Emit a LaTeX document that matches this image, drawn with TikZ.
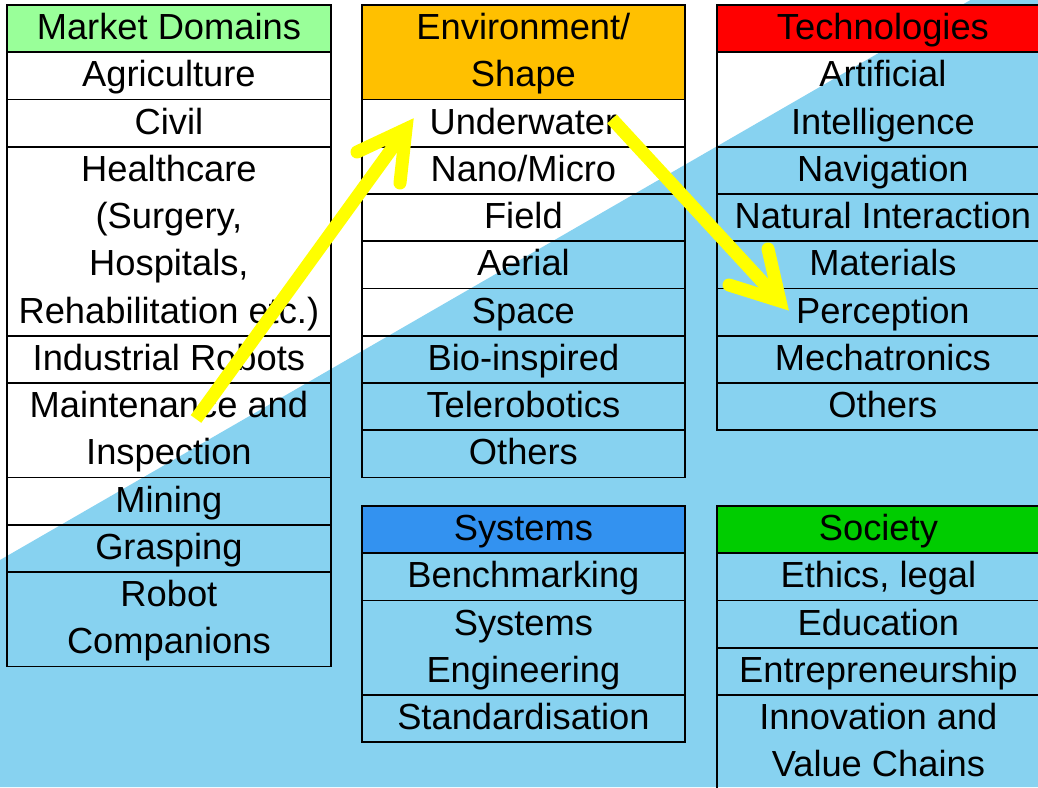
\documentclass[tikz,border=0pt]{standalone}
\usepackage{fontspec}
\setmainfont{Liberation Sans}
\definecolor{bgblue}{RGB}{135,210,240}
\definecolor{mdgreen}{RGB}{153,255,153}
\definecolor{envorange}{RGB}{255,192,0}
\definecolor{techred}{RGB}{255,0,0}
\definecolor{sysblue}{RGB}{51,146,240}
\definecolor{socgreen}{RGB}{0,204,0}
\definecolor{arrowyellow}{RGB}{255,255,0}
% name, x, ytop, width, nlines, fill, text
\newcommand\mycell[7]{%
  \node[cellbox, fill=#6, minimum width=#4pt, minimum height=#5*47.25pt] (#1) at (#2,#3) {};
  \node[celltext] (#1-t) at ([yshift=-35.5pt]#1.north) {\begin{tabular}[t]{@{}c@{}}#7\end{tabular}};
}
\begin{document}
\begin{tikzpicture}[x=1pt,y=-1pt,
  cellbox/.style={draw=black, line width=1.8pt, inner sep=0pt, anchor=north west},
  celltext/.style={inner sep=0pt, anchor=base, font=\fontsize{36.3}{47.25}\selectfont},
  yshaft/.style={draw=arrowyellow, line width=13pt, line cap=butt},
  yhead/.style={draw=arrowyellow, line width=13pt, line cap=round, line join=miter}]
\useasboundingbox (0,0) rectangle (1038,787);
\clip (0,0) rectangle (1038,787);
\fill[bgblue] (0,560) -- (970.5,0) -- (1038,0) -- (1038,787) -- (0,787) -- cycle;

% Column 1: Market Domains
\mycell{mdh}{6}{4}{324}{1}{mdgreen}{Market Domains}
\mycell{agri}{6}{51.25}{324}{1}{none}{Agriculture}
\mycell{civil}{6}{98.5}{324}{1}{none}{Civil}
\mycell{health}{6}{145.75}{324}{4}{none}{Healthcare\\(Surgery,\\Hospitals,\\Rehabilitation etc.)}
\mycell{indus}{6}{334.75}{324}{1}{none}{Industrial Robots}
\mycell{maint}{6}{382}{324}{2}{none}{Maintenance and\\Inspection}
\mycell{mining}{6}{476.5}{324}{1}{none}{Mining}
\mycell{grasp}{6}{523.75}{324}{1}{none}{Grasping}
\mycell{robot}{6}{571}{324}{2}{none}{Robot\\Companions}

% Column 2: Environment/Shape
\mycell{envh}{361}{4}{323}{2}{envorange}{Environment/\\Shape}
\mycell{under}{361}{98.5}{323}{1}{none}{Underwater}
\mycell{nano}{361}{145.75}{323}{1}{none}{Nano/Micro}
\mycell{field}{361}{193}{323}{1}{none}{Field}
\mycell{aerial}{361}{240.25}{323}{1}{none}{Aerial}
\mycell{space}{361}{287.5}{323}{1}{none}{Space}
\mycell{bio}{361}{334.75}{323}{1}{none}{Bio-inspired}
\mycell{tele}{361}{382}{323}{1}{none}{Telerobotics}
\mycell{envoth}{361}{429.25}{323}{1}{none}{Others}

% Systems
\mycell{sysh}{361}{505}{323}{1}{sysblue}{Systems}
\mycell{bench}{361}{552.25}{323}{1}{none}{Benchmarking}
\mycell{syseng}{361}{599.5}{323}{2}{none}{Systems\\Engineering}
\mycell{stand}{361}{694}{323}{1}{none}{Standardisation}

% Column 3: Technologies
\mycell{techh}{716}{4}{332}{1}{techred}{Technologies}
\mycell{ai}{716}{51.25}{332}{2}{none}{Artificial\\Intelligence}
\mycell{nav}{716}{145.75}{332}{1}{none}{Navigation}
\mycell{natint}{716}{193}{332}{1}{none}{Natural Interaction}
\mycell{mat}{716}{240.25}{332}{1}{none}{Materials}
\mycell{perc}{716}{287.5}{332}{1}{none}{Perception}
\mycell{mech}{716}{334.75}{332}{1}{none}{Mechatronics}
\mycell{techoth}{716}{382}{332}{1}{none}{Others}

% Society
\mycell{soch}{716}{505}{323}{1}{socgreen}{Society}
\mycell{ethics}{716}{552.25}{323}{1}{none}{Ethics, legal}
\mycell{edu}{716}{599.5}{323}{1}{none}{Education}
\mycell{entre}{716}{646.75}{323}{1}{none}{Entrepreneurship}
\mycell{innov}{716}{694}{323}{2}{none}{Innovation and\\Value Chains}

% Yellow arrows
\coordinate (a1s) at (196,419);
\coordinate (a1v) at (406,129);
\coordinate (a1b) at (357,152);
\coordinate (a1c) at (400,183);
\draw[yshaft] (a1s) -- (a1v);
\draw[yhead] (a1b) -- (a1v) -- (a1c);

\coordinate (a2s) at (612,119);
\coordinate (a2v) at (780,301);
\coordinate (a2b) at (768,249);
\coordinate (a2c) at (729,285);
\draw[yshaft] (a2s) -- (a2v);
\draw[yhead] (a2b) -- (a2v) -- (a2c);
\end{tikzpicture}
\end{document}
